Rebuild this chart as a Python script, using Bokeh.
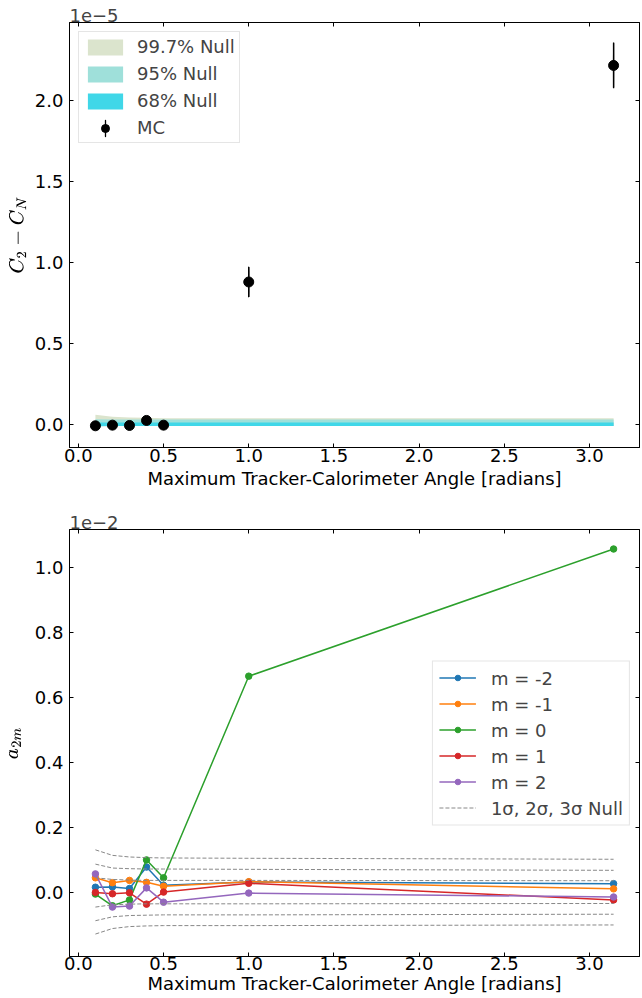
import numpy as np
from bokeh.plotting import figure
from bokeh.models import (LinearAxis, FixedTicker, CustomJSTickFormatter, Legend, LegendItem,
                          ColumnDataSource, Range1d, NumeralTickFormatter)
from bokeh.layouts import column
from bokeh.embed import file_html
from bokeh.resources import INLINE

# ---------------- data ----------------
angle = [0.1, 0.2, 0.3, 0.4, 0.5, 1.0, np.pi]

# top panel (values in absolute units, axis shows x1e-5)
mc_c2_minus_cn = [-0.010e-5, -0.006e-5, -0.008e-5, 0.023e-5, -0.006e-5, 0.878e-5, 2.215e-5]
mc_err = [0.004e-5, 0.004e-5, 0.005e-5, 0.006e-5, 0.006e-5, 0.093e-5, 0.141e-5]
null997_lo = [-0.013e-5, -0.012e-5, -0.012e-5, -0.012e-5, -0.012e-5, -0.012e-5, -0.012e-5]
null997_hi = [0.058e-5, 0.046e-5, 0.041e-5, 0.039e-5, 0.037e-5, 0.037e-5, 0.037e-5]
null95_lo = [-0.013e-5, -0.012e-5, -0.012e-5, -0.012e-5, -0.012e-5, -0.012e-5, -0.012e-5]
null95_hi = [0.031e-5, 0.029e-5, 0.029e-5, 0.029e-5, 0.029e-5, 0.029e-5, 0.029e-5]
null68_lo = [-0.013e-5, -0.012e-5, -0.012e-5, -0.012e-5, -0.012e-5, -0.012e-5, -0.012e-5]
null68_hi = [0.011e-5, 0.010e-5, 0.010e-5, 0.010e-5, 0.010e-5, 0.010e-5, 0.010e-5]

# bottom panel (values in absolute units, axis shows x1e-2)
a2m = {
    "m = -2": [0.016e-2, 0.017e-2, 0.012e-2, 0.078e-2, 0.022e-2, 0.032e-2, 0.027e-2],
    "m = -1": [0.045e-2, 0.030e-2, 0.037e-2, 0.031e-2, 0.019e-2, 0.033e-2, 0.011e-2],
    "m = 0": [-0.005e-2, -0.041e-2, -0.023e-2, 0.100e-2, 0.045e-2, 0.665e-2, 1.056e-2],
    "m = 1": [0.000e-2, -0.004e-2, -0.001e-2, -0.036e-2, 0.001e-2, 0.028e-2, -0.023e-2],
    "m = 2": [0.057e-2, -0.045e-2, -0.042e-2, 0.014e-2, -0.030e-2, -0.002e-2, -0.014e-2],
}
sig3_hi = [0.131e-2, 0.114e-2, 0.109e-2, 0.107e-2, 0.106e-2, 0.105e-2, 0.102e-2]
sig2_hi = [0.087e-2, 0.075e-2, 0.073e-2, 0.072e-2, 0.072e-2, 0.071e-2, 0.068e-2]
sig1_hi = [0.045e-2, 0.040e-2, 0.038e-2, 0.037e-2, 0.037e-2, 0.037e-2, 0.036e-2]
sig1_lo = [-0.045e-2, -0.038e-2, -0.036e-2, -0.035e-2, -0.035e-2, -0.035e-2, -0.034e-2]
sig2_lo = [-0.087e-2, -0.075e-2, -0.071e-2, -0.070e-2, -0.069e-2, -0.069e-2, -0.067e-2]
sig3_lo = [-0.128e-2, -0.111e-2, -0.105e-2, -0.103e-2, -0.102e-2, -0.102e-2, -0.100e-2]

x_ticks = [0.0, 0.5, 1.0, 1.5, 2.0, 2.5, 3.0]
top_y_ticks = [0.0, 0.5e-5, 1.0e-5, 1.5e-5, 2.0e-5]
bot_y_ticks = [0.0, 0.2e-2, 0.4e-2, 0.6e-2, 0.8e-2, 1.0e-2]

series_colors = ["#1f77b4", "#ff7f0e", "#2ca02c", "#d62728", "#9467bd"]
FONT = "DejaVu Sans"
FS = "18px"


def style_axes(p, yticks, scale, ylabel, xstandoff, xlabelstandoff):
    xa = p.xaxis[0]
    ya = p.yaxis[0]
    xa.ticker = FixedTicker(ticks=x_ticks)
    xa.formatter = NumeralTickFormatter(format="0.0")
    ya.ticker = FixedTicker(ticks=yticks)
    ya.formatter = CustomJSTickFormatter(code="return (tick/%s).toFixed(1)" % scale)
    right = LinearAxis(ticker=FixedTicker(ticks=yticks),
                       formatter=CustomJSTickFormatter(code="return ''"))
    top = LinearAxis(ticker=FixedTicker(ticks=x_ticks),
                     formatter=CustomJSTickFormatter(code="return ''"))
    p.add_layout(right, "right")
    p.add_layout(top, "above")
    for ax in [xa, ya, right, top]:
        ax.major_tick_in = 4
        ax.major_tick_out = 0
        ax.minor_tick_in = 0
        ax.minor_tick_out = 0
        ax.major_tick_line_color = "black"
        ax.axis_line_color = "black"
        ax.major_label_text_font = FONT
        ax.major_label_text_font_size = FS
        ax.major_label_text_color = "black"
        ax.axis_label_text_font = FONT
        ax.axis_label_text_font_size = FS
        ax.axis_label_text_font_style = "normal"
        ax.axis_label_text_color = "black"
    right.major_label_standoff = 0
    top.major_label_standoff = 0
    xa.major_label_standoff = xstandoff
    ya.major_label_standoff = 6
    xa.axis_label = "Maximum Tracker-Calorimeter Angle [radians]"
    xa.axis_label_standoff = xlabelstandoff
    ya.axis_label = ylabel
    ya.axis_label_standoff = 5
    ya.axis_label_text_font_size = "15px"
    p.xgrid.visible = False
    p.ygrid.visible = False
    p.outline_line_color = "black"
    p.title.text_font = FONT
    p.title.text_font_size = FS
    p.title.text_font_style = "normal"
    p.title.align = "left"
    p.title.offset = 0
    p.title.standoff = 2


# ---------------- top figure ----------------
p1 = figure(width=642, height=500, output_backend="svg", toolbar_location=None,
            x_range=Range1d(-0.0521, 3.2937), y_range=Range1d(-0.144e-5, 2.48e-5),
            min_border_left=69, min_border_right=3, min_border_top=22, min_border_bottom=53,
            title="1e\u22125")
style_axes(p1, top_y_ticks, "1e-5", r"$$C_2 - C_N$$", 1, 3)

src_top = ColumnDataSource(data=dict(
    x=angle, y=mc_c2_minus_cn,
    lo=[v - e for v, e in zip(mc_c2_minus_cn, mc_err)],
    hi=[v + e for v, e in zip(mc_c2_minus_cn, mc_err)],
    h=[2 * e for e in mc_err],
    b997lo=null997_lo, b997hi=null997_hi, b95lo=null95_lo, b95hi=null95_hi,
    b68lo=null68_lo, b68hi=null68_hi))

r997 = p1.varea(x="x", y1="b997lo", y2="b997hi", source=src_top, fill_color="#dbe4cd")
r95 = p1.varea(x="x", y1="b95lo", y2="b95hi", source=src_top, fill_color="#9fe0da")
r68 = p1.varea(x="x", y1="b68lo", y2="b68hi", source=src_top, fill_color="#40d7e8")
p1.segment(x0="x", y0="lo", x1="x", y1="hi", source=src_top, line_color="black", line_width=1.3)
# thin ellipse over each error bar (same geometry) -> draws a vertical bar in the legend
r_err = p1.ellipse(x="x", y="y", width=0.1, width_units="screen", height="h",
                   source=src_top, fill_color=None, line_color="black", line_width=1.3)
r_mc = p1.scatter(x="x", y="y", source=src_top, size=10, fill_color="black", line_color="black")

leg1 = Legend(items=[LegendItem(label="99.7% Null", renderers=[r997]),
                     LegendItem(label="95% Null", renderers=[r95]),
                     LegendItem(label="68% Null", renderers=[r68]),
                     LegendItem(label="MC", renderers=[r_err, r_mc], index=6)],
              location="top_left", margin=9, padding=4, spacing=6,
              glyph_width=44, glyph_height=20, label_standoff=10,
              label_text_font=FONT, label_text_font_size=FS,
              border_line_color="#cccccc", border_line_width=1,
              background_fill_color="white", background_fill_alpha=0.8)
p1.add_layout(leg1)

# ---------------- bottom figure ----------------
p2 = figure(width=642, height=498, output_backend="svg", toolbar_location=None,
            x_range=Range1d(-0.0521, 3.2937), y_range=Range1d(-0.197e-2, 1.116e-2),
            min_border_left=69, min_border_right=3, min_border_top=29, min_border_bottom=42,
            title="1e\u22122")
style_axes(p2, bot_y_ticks, "1e-2", r"$$a_{2m}$$", 0, 0)

items2 = []
for (name, vals), col in zip(a2m.items(), series_colors):
    s = ColumnDataSource(data=dict(x=angle, y=vals))
    rl = p2.line(x="x", y="y", source=s, line_color=col, line_width=1.5)
    rs = p2.scatter(x="x", y="y", source=s, size=6.5, fill_color=col, line_color=col)
    items2.append(LegendItem(label=name, renderers=[rl, rs]))

r_sig = p2.multi_line(xs=[angle] * 6,
                      ys=[sig3_hi, sig2_hi, sig1_hi, sig1_lo, sig2_lo, sig3_lo],
                      line_color="#888888", line_width=1, line_dash="4 2")
items2.append(LegendItem(label="1\u03c3, 2\u03c3, 3\u03c3 Null", renderers=[r_sig]))

leg2 = Legend(items=items2, location="right", margin=9, padding=6, spacing=5,
              glyph_width=37, glyph_height=14, label_standoff=15,
              label_text_font=FONT, label_text_font_size=FS,
              border_line_color="#cccccc", border_line_width=1,
              background_fill_color="white", background_fill_alpha=0.8)
p2.add_layout(leg2)

layout = column(p1, p2, spacing=0)
open("out.html", "w").write(file_html(layout, INLINE))
